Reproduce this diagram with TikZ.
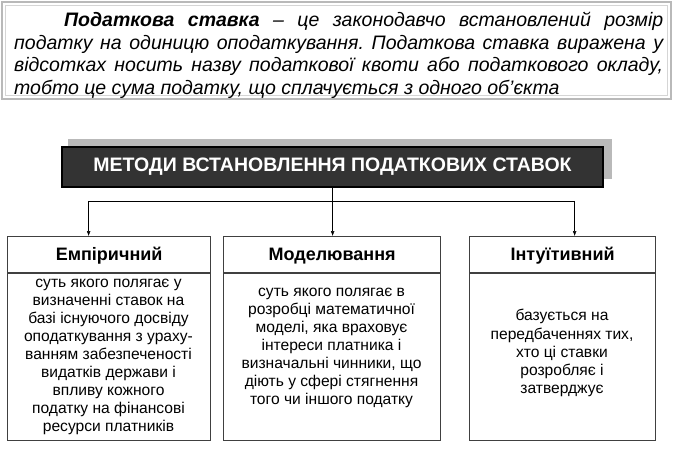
\documentclass[tikz,border=0pt]{standalone}
\usepackage{fontspec}
\setmainfont{Liberation Sans}
\usetikzlibrary{arrows.meta,positioning,calc}
\colorlet{framegray}{gray!55}
\colorlet{headfill}{black!80}
\colorlet{shadowgray}{gray!55}
\colorlet{boxline}{black!75}
\frenchspacing

\tikzset{
  methodbox/.style={draw=boxline,line width=1.3pt,minimum width=#1,minimum height=204pt,inner sep=0pt},
  methodtitle/.style={anchor=base,inner sep=0pt,font=\bfseries\fontsize{18}{20}\selectfont},
  methodtext/.style={align=center,inner sep=0pt,font=\fontsize{15.6}{18.1}\selectfont},
}

\begin{document}
\begin{tikzpicture}[x=1pt,y=-1pt,>=Latex]
\useasboundingbox (0,0) rectangle (675,452);
% definition frame
\draw[framegray,line width=2.5pt] (2,2) rectangle (671,99);
\draw[framegray!60,line width=0.6pt] (5.5,5.5) rectangle (667.5,95.5);
\node[anchor=north west,inner sep=0pt,text width=649pt,align=justify,
  font=\itshape\fontsize{19.5}{22.5}\selectfont] (def) at (14,12)
  {\hspace*{50pt}\textbf{Податкова ставка} – це законодавчо встановлений розмір\linebreak
   податку на одиницю оподаткування. Податкова ставка виражена у\linebreak
   відсотках носить назву податкової квоти або податкового окладу,\linebreak
   тобто це сума податку, що сплачується з одного об’єкта};
% heading with shadow
\fill[shadowgray] (68,139) rectangle (612,179);
\node[draw=black,line width=1.5pt,fill=headfill,minimum width=541pt,minimum height=40pt,
  text=white,font=\bfseries\fontsize{19.5}{22}\selectfont] (hdr) at (332.5,167)
  {МЕТОДИ ВСТАНОВЛЕННЯ ПОДАТКОВИХ СТАВОК};
% three methods
\node[methodbox=203pt,anchor=north west] (emp) at (7,236) {};
\node[methodbox=217pt,anchor=north west] (mod) at (223,236) {};
\node[methodbox=186pt,anchor=north west] (int) at (469,236) {};
\foreach \b in {emp,mod,int}
  \draw[boxline,line width=1.3pt] ([yshift=-37pt]\b.north west) -- ([yshift=-37pt]\b.north east);
\node[methodtitle] (empT) at ([yshift=-24pt]emp.north) {Емпіричний};
\node[methodtitle] (modT) at ([yshift=-24pt]mod.north) {Моделювання};
\node[methodtitle] (intT) at ([yshift=-24pt]int.north) {Інтуїтивний};
\node[methodtext] (empB) at (108.5,357)
  {суть якого полягає у\\визначенні ставок на\\базі існуючого досвіду\\оподаткування з ураху-\\
   ванням забезпеченості\\видатків держави і\\впливу кожного\\податку на фінансові\\ресурси платників};
\node[methodtext] (modB) at (331.5,348)
  {суть якого полягає в\\розробці математичної\\моделі, яка враховує\\інтереси платника і\\
   визначальні чинники, що\\діють у сфері стягнення\\того чи іншого податку};
\node[methodtext] (intB) at (562,353)
  {базується на\\передбаченнях тих,\\хто ці ставки\\розробляє і\\затверджує};
% connectors
\coordinate (bus) at ($(hdr.south)+(0,13)$);
\draw (hdr.south) -- (bus);
\draw ([xshift=-20.5pt]emp.north |- bus) -- ([xshift=12pt]int.north |- bus);
\foreach \b/\dx in {emp/-20.5,mod/0.5,int/12}
  \draw[->] ([xshift=\dx pt]\b.north |- bus) -- ([xshift=\dx pt]\b.north);
\end{tikzpicture}
\end{document}
